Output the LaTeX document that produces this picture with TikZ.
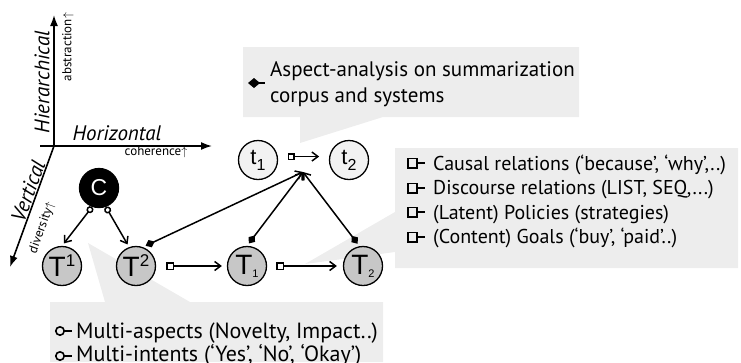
\documentclass[tikz,border=0pt]{standalone}
\usepackage{fontspec}
\setmainfont{PT Sans}
\newfontfamily\nodefont{Liberation Sans}
\usetikzlibrary{arrows.meta}

\begin{document}
\begin{tikzpicture}[x=1pt,y=1pt,yscale=-1,xscale=1,
  bigcirc/.style={circle,draw,line width=1.3pt,minimum size=39pt,inner sep=0pt,fill=black!22,font=\nodefont\fontsize{28}{28}\selectfont},
  tinycirc/.style={circle,draw,line width=1.3pt,minimum size=39pt,inner sep=0pt,fill=black!5,font=\nodefont\fontsize{22}{22}\selectfont},
  edge/.style={line width=1.5pt},
  circtail/.style={{Circle[open,length=7pt]}-{Straight Barb[length=6pt,width=9pt]}},
  sqtail/.style={{Square[open,length=8pt,width=8pt]}-{Straight Barb[length=6pt,width=9pt]}},
  diatail/.style={{Diamond[length=10pt,width=8pt]}-{Straight Barb[length=6pt,width=9pt]}},
  legendmark/.style={line width=1.6pt},
  axisline/.style={line width=1.6pt,-{Latex[length=11pt,width=8pt]}},
  callout/.style={fill=black!7},
  boxtext/.style={anchor=base west,inner sep=0pt,font=\fontsize{20}{24.5}\selectfont,align=left},
  axislabel/.style={inner sep=0pt,font=\itshape\fontsize{21}{21}\selectfont},
  axisnote/.style={inner sep=0pt,font=\fontsize{13}{13}\selectfont},
]
\useasboundingbox (0,0) rectangle (741,362);

%Shape: Callouts
\fill [callout] (243,47) -- (579,47) -- (579,117) -- (383,117) -- (300,143) -- (300,117) -- (243,117) -- cycle ;
\fill [callout] (395,148) -- (738,148) -- (738,268) -- (395,268) -- (395,252) -- (305,264) -- (395,212) -- cycle ;
\fill [callout] (50,302) -- (105,302) -- (88,243) -- (190,302) -- (383,302) -- (383,362) -- (50,362) -- cycle ;

%Axes
\coordinate (origin) at (54,146);
\coordinate (hstart) at (40,146);
\coordinate (up) at (54,15);
\coordinate (right) at (212,146);
\coordinate (down) at (10,267);
\draw [axisline] (origin) -- (up) ;
\draw [axisline] (hstart) -- (right) ;
\draw [axisline] (origin) -- (down) ;

% Text Node
\node [axislabel,rotate=90] (hier) at (42,82) {Hierarchical};
\node [axisnote,rotate=90] (abstr) at (68,47) {abstraction$\uparrow$};
\node [axislabel] (horiz) at (117,133) {Horizontal};
\node [axisnote] (coher) at (156,152) {coherence$\uparrow$};
\node [axislabel,rotate=70] (vert) at (28,191) {Vertical};
\node [axisnote,rotate=70] (divers) at (42,228) {diversity$\uparrow$};

%Shape: Circle
\node [bigcirc,fill=black,text=white,font=\nodefont\fontsize{23}{23}\selectfont] (corpus) at (99,188) {C};
\node [bigcirc] (Ta) at (62,266) {T\raisebox{10pt}{\fontsize{17}{17}\selectfont 1}};
\node [bigcirc] (Tb) at (136,266) {T\raisebox{10pt}{\fontsize{17}{17}\selectfont 2}};
\node [bigcirc] (Tc) at (247,266) {T\raisebox{-3pt}{\fontsize{11}{11}\selectfont 1}};
\node [bigcirc] (Td) at (363,266) {T\raisebox{-3pt}{\fontsize{11}{11}\selectfont 2}};
\node [tinycirc] (ta) at (258,160) {t\raisebox{-6pt}{\fontsize{16}{16}\selectfont 1}};
\node [tinycirc] (tb) at (349,160) {t\raisebox{-6pt}{\fontsize{16}{16}\selectfont 2}};
\coordinate (hub) at (303,172);

%Straight Lines
\draw [edge,circtail,shorten >=3pt] (corpus.250) -- (Ta.north) ;
\draw [edge,circtail,shorten >=3pt] (corpus.290) -- (Tb.110) ;
\draw [edge,sqtail,shorten <=10pt,shorten >=5pt] (Tb) -- (Tc) ;
\draw [edge,sqtail,shorten <=9pt,shorten >=6pt] (Tc) -- (Td) ;
\draw [edge,{Square[open,length=7pt,width=7pt]}-{Straight Barb[length=6pt,width=9pt]},shorten <=10pt,shorten >=10pt] (ta.10) -- (tb.170) ;
\draw [edge,diatail,shorten <=3pt] (Tb.70) -- (hub) ;
\draw [edge,diatail,shorten <=3pt] (Tc.north) -- (hub) ;
\draw [edge,diatail,shorten <=3pt] (Td.100) -- (hub) ;

%Legend marks
\draw [legendmark,{Diamond[length=12pt,width=10pt]}-] (248,83) -- (265,83) ;
\draw [legendmark,{Square[open,length=11pt,width=11pt]}-] (407,163) -- (425,163) ;
\draw [legendmark,{Square[open,length=11pt,width=11pt]}-] (407,188) -- (425,188) ;
\draw [legendmark,{Square[open,length=11pt,width=11pt]}-] (407,212) -- (425,212) ;
\draw [legendmark,{Square[open,length=11pt,width=11pt]}-] (407,237) -- (425,237) ;
\draw [legendmark,{Circle[open,length=10pt]}-] (55,331) -- (72,331) ;
\draw [legendmark,{Circle[open,length=10pt]}-] (55,356) -- (72,356) ;

% Text Node
\node [boxtext,font=\fontsize{21}{26}\selectfont] (aspect) at (270,102) {Aspect-analysis on summarization\\corpus and systems};
\node [boxtext] (causal) at (433,170) {Causal relations (‘because’, ‘why’,..)};
\node [boxtext] (discourse) at (433,194.5) {Discourse relations (LIST, SEQ,...)};
\node [boxtext] (policy) at (433,219) {(Latent) Policies (strategies)};
\node [boxtext] (goal) at (433,243.5) {(Content) Goals (‘buy’, ‘paid’..)};
\node [boxtext,font=\fontsize{22}{23}\selectfont] (multiasp) at (76,338) {Multi-aspects (Novelty, Impact..)};
\node [boxtext,font=\fontsize{22}{23}\selectfont] (multiint) at (76,361) {Multi-intents (‘Yes’, ‘No’, ‘Okay’)};

\end{tikzpicture}
\end{document}
